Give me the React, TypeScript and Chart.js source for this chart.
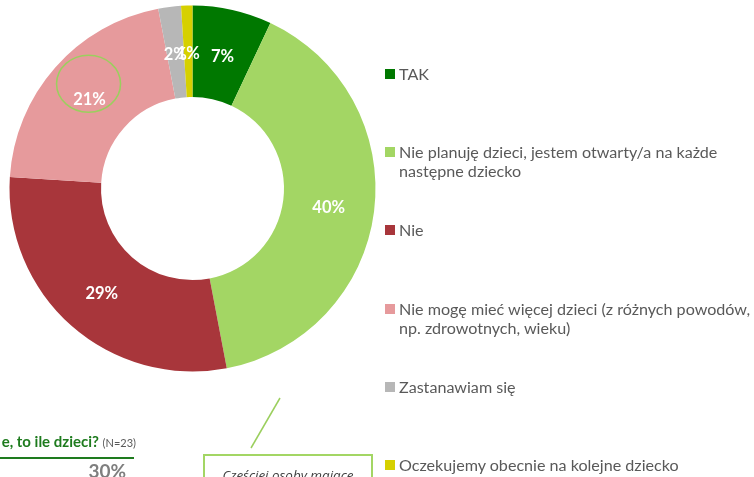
import React, { useEffect, useRef } from "react";
import { Chart, registerables } from "chart.js";

Chart.register(...registerables);

const categories: (string | string[])[] = [
  "TAK",
  ["Nie planuję dzieci, jestem otwarty/a na każde", "następne dziecko"],
  "Nie",
  ["Nie mogę mieć więcej dzieci (z różnych powodów,", "np. zdrowotnych, wieku)"],
  "Zastanawiam się",
  "Oczekujemy obecnie na kolejne dziecko",
];
const values: number[] = [7, 40, 29, 21, 2, 1];
const valueLabels: string[] = ["7%", "40%", "29%", "21%", "2%", "1%"];
const colors: string[] = ["#007800", "#A3D664", "#A8363B", "#E69A9C", "#B7B7B7", "#D6D000"];

const LEGEND_FONT = "Lato";
const calloutText = "Częściej osoby mające";

// pick a font size so that a given line reaches a target width
function fitSize(font: string, style: string, text: string, target: number): number {
  const c = document.createElement("canvas");
  const ctx = c.getContext("2d");
  if (!ctx) return 16;
  ctx.font = `${style} 100px ${font}`;
  const w = ctx.measureText(text).width;
  return (100 * target) / w;
}

const labelPlugin = {
  id: "sliceLabels",
  afterDatasetsDraw(chart: any) {
    const ctx = chart.ctx;
    const meta = chart.getDatasetMeta(0);
    ctx.save();
    ctx.font = "bold 16.5px Lato";
    ctx.fillStyle = "#FFFFFF";
    ctx.textAlign = "center";
    ctx.textBaseline = "middle";
    meta.data.forEach((arc: any, i: number) => {
      const p = arc.tooltipPosition();
      ctx.fillText(valueLabels[i], p.x, p.y + 2);
    });
    // highlight circle around one label
    const a = meta.data[3].tooltipPosition();
    ctx.strokeStyle = "#9BCF5E";
    ctx.lineWidth = 1.5;
    ctx.beginPath();
    ctx.ellipse(a.x - 1, a.y - 14, 32, 28.5, 0, 0, Math.PI * 2);
    ctx.stroke();
    // callout line
    ctx.beginPath();
    ctx.moveTo(280, 398);
    ctx.lineTo(251, 448);
    ctx.stroke();
    ctx.restore();
  },
};

export default function App() {
  const ref = useRef<HTMLCanvasElement | null>(null);
  const legendSize = fitSize(LEGEND_FONT, "normal", "Nie mogę mieć więcej dzieci (z różnych powodów,", 352);
  const calloutSize = fitSize("'Open Sans'", "italic", calloutText, 131);

  useEffect(() => {
    if (!ref.current) return;
    const chart = new Chart(ref.current, {
      type: "doughnut",
      data: {
        labels: categories as any,
        datasets: [
          {
            data: values,
            backgroundColor: colors,
            borderWidth: 0,
          },
        ],
      },
      options: {
        animation: false,
        responsive: false,
        cutout: "50%",
        layout: { padding: { left: 9.5, top: 5.5, right: 378.5, bottom: 105.5 } },
        plugins: { legend: { display: false }, tooltip: { enabled: false } },
      },
      plugins: [labelPlugin],
    });
    return () => chart.destroy();
  }, []);

  return (
    <div
      style={{
        position: "fixed",
        left: 0,
        top: 0,
        width: 754,
        height: 477,
        overflow: "hidden",
        background: "#FFFFFF",
        fontFamily: "Lato, sans-serif",
      }}
    >
      <canvas ref={ref} width={754} height={477} style={{ position: "absolute", left: 0, top: 0 }} />
      {categories.map((c, i) => {
        const lines = Array.isArray(c) ? c : [c];
        const top = 74 + i * 78.2;
        return (
          <div key={i} style={{ position: "absolute", left: 385, top: top - 10, height: 200 }}>
            <div
              style={{
                position: "absolute",
                left: 0,
                top: 5,
                width: 10,
                height: 10,
                background: colors[i],
              }}
            />
            <div
              style={{
                position: "absolute",
                left: 14,
                top: 0,
                whiteSpace: "nowrap",
                fontFamily: LEGEND_FONT,
                fontSize: legendSize,
                lineHeight: "19px",
                color: "#595959",
              }}
            >
              {lines.map((l, j) => (
                <div key={j}>{l}</div>
              ))}
            </div>
          </div>
        );
      })}
      <div
        style={{
          position: "absolute",
          right: 754 - 136,
          top: 432,
          whiteSpace: "nowrap",
          color: "#1E7B1E",
          fontWeight: "bold",
          fontSize: 15,
        }}
      >
        e, to ile dzieci? <span style={{ color: "#595959", fontWeight: "normal", fontSize: 11 }}>(N=23)</span>
      </div>
      <div style={{ position: "absolute", left: 0, top: 457, width: 134, height: 2, background: "#1E7B1E" }} />
      <div
        style={{
          position: "absolute",
          right: 754 - 126,
          top: 459,
          color: "#7F7F7F",
          fontWeight: "bold",
          fontSize: 19,
        }}
      >
        30%
      </div>
      <div
        style={{
          position: "absolute",
          left: 203,
          top: 454,
          width: 170,
          height: 40,
          border: "2px solid #A3D664",
          boxSizing: "border-box",
          background: "#FFFFFF",
          textAlign: "center",
          fontStyle: "italic",
          fontFamily: "'Open Sans', sans-serif",
          fontSize: calloutSize,
          lineHeight: "19px",
          color: "#404040",
          paddingTop: 10,
          whiteSpace: "nowrap",
        }}
      >
        {calloutText}
      </div>
    </div>
  );
}
